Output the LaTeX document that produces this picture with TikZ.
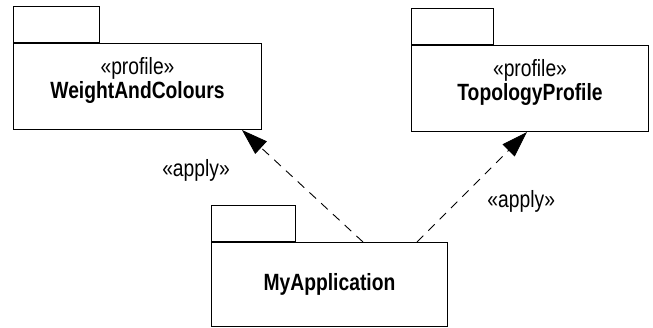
\documentclass[tikz,border=0pt]{standalone}
\usepackage{fontspec}
\setmainfont[FakeStretch=0.82]{Liberation Sans}
\usetikzlibrary{positioning,arrows.meta}

\begin{document}
\begin{tikzpicture}[x=1pt,y=1pt,every node/.style={font=\fontsize{23.5}{24}\selectfont,align=center},
    pkg/.style={draw,line width=1pt,shape=rectangle,anchor=north west,inner sep=0pt},
    tab/.style={draw,line width=1pt,shape=rectangle,minimum height=36pt,anchor=south west,inner sep=0pt},
    apply/.style={dash pattern=on 9pt off 7pt,line width=0.9pt,-{Triangle[length=26pt,width=17pt]}}]
    \useasboundingbox (0,0) rectangle (653,-327);
    % the two profiles
    \node[pkg,minimum width=248pt,minimum height=86pt] (wac) at (13,-43) {«profile»\\\textbf{WeightAndColours}\\[-6pt]};
    \node[tab,minimum width=86pt] (wactab) at (wac.north west) {};
    \node[pkg,minimum width=237pt,minimum height=86pt] (topo) at (411,-45) {«profile»\\\textbf{TopologyProfile}\\[-6pt]};
    \node[tab,minimum width=82pt] (topotab) at (topo.north west) {};
    % the application
    \node[pkg,minimum width=236pt,minimum height=84pt] (app) at (211,-242) {\textbf{MyApplication}};
    \node[tab,minimum width=84pt] (apptab) at (app.north west) {};
    \draw[apply] ([xshift=152pt]app.north west) -- node[pos=0.64,left=52pt]{«apply»} ([xshift=-20pt]wac.south east);
    \draw[apply] ([xshift=206pt]app.north west) -- node[pos=0.37,right=26pt]{«apply»} ([xshift=116pt]topo.south west);
\end{tikzpicture}
\end{document}
